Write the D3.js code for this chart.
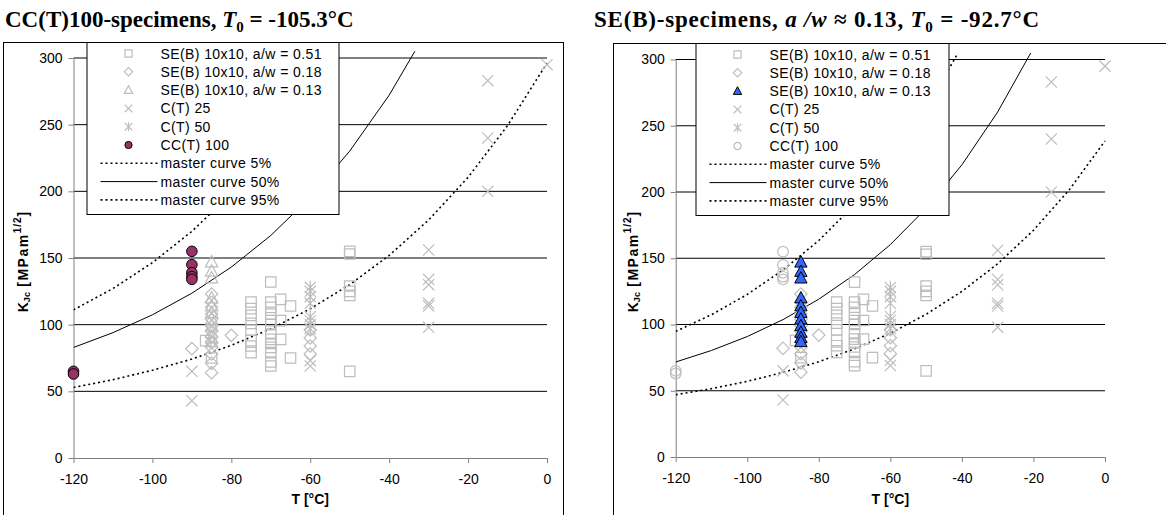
<!DOCTYPE html>
<html>
<head>
<meta charset="utf-8">
<script src="https://cdn.jsdelivr.net/npm/d3@7"></script>
<style>
  body { margin: 0; background: #fff; }
  svg { display: block; font-family: 'Liberation Sans', Arial, sans-serif; }
</style>
</head>
<body>
<svg id="chart" width="1166" height="515"></svg>
<script>
// axis ticks
const xTicks = [-120, -100, -80, -60, -40, -20, 0];
const yTicks = [0, 50, 100, 150, 200, 250, 300];

// test results [T in °C, K_Jc in MPa m^1/2]
const seb051 = [[-86.5, 88], [-85, 75], [-75, 117], [-75, 112], [-75, 107], [-75, 101], [-75, 96], [-75, 88],
  [-75, 84], [-75, 79], [-70, 132], [-70, 117], [-70, 113], [-70, 108], [-70, 103], [-70, 100], [-70, 93],
  [-70, 89], [-70, 86], [-70, 83], [-70, 79], [-70, 72], [-70, 69], [-67.5, 119], [-67.5, 103], [-67.5, 89],
  [-65, 114], [-65, 75], [-50, 155], [-50, 153], [-50, 129], [-50, 125], [-50, 122], [-50, 65]];
const seb018 = [[-90, 82], [-85, 123], [-85, 117], [-85, 113], [-85, 108], [-85, 104], [-85, 99], [-85, 95],
  [-85, 91], [-85, 87], [-85, 83], [-85, 78], [-85, 71], [-85, 64], [-80, 92], [-60, 96], [-60, 90], [-60, 84], [-60, 78]];
const seb013 = [[-85, 147], [-85, 140], [-85, 135], [-85, 120], [-85, 114], [-85, 109], [-85, 104], [-85, 99],
  [-85, 94], [-85, 90], [-85, 87]];
const ct25 = [[-90, 65], [-90, 43], [-60, 73], [-60, 69], [-30, 156], [-30, 134], [-30, 130], [-30, 116],
  [-30, 114], [-30, 98], [-15, 283], [-15, 240], [-15, 200], [0, 295]];
const ct50 = [[-60, 128], [-60, 125], [-60, 121], [-60, 116], [-60, 106], [-60, 103], [-60, 100], [-60, 97]];
const cct100 = [[-120, 65], [-120, 63], [-90, 155], [-90, 145], [-90, 139], [-90, 136], [-90, 134]];

// master curves, read every 10 °C (lists stop once the curve leaves the plot)
const curveT = [-120, -110, -100, -90, -80, -70, -60, -50, -40, -30, -20, -10, 0];
const leftMc5 = [52.9, 58.7, 65.8, 74.2, 84.5, 96.9, 111.9, 130.0, 151.9, 178.5, 210.5, 249.3, 296.2];
const leftMc50 = [82.9, 94.0, 107.4, 123.6, 143.2, 166.9, 195.5, 230.2, 272.1, 322.7];
const leftMc95 = [111.1, 127.1, 146.5, 170.0, 198.3, 232.6, 274.0, 324.2];
const rightMc5 = [47.0, 51.6, 57.1, 63.8, 71.9, 81.6, 93.4, 107.7, 125.0, 145.8, 171.1, 201.6, 238.5];
const rightMc50 = [71.7, 80.4, 90.9, 103.7, 119.1, 137.7, 160.3, 187.6, 220.5, 260.4, 308.6];
const rightMc95 = [94.8, 107.4, 122.7, 141.1, 163.4, 190.4, 223.0, 262.5, 310.2];

const series = [
  { key: 'seb051', label: 'SE(B) 10x10, a/w = 0.51', data: seb051, symbol: 'square' },
  { key: 'seb018', label: 'SE(B) 10x10, a/w = 0.18', data: seb018, symbol: 'diamond' },
  { key: 'seb013', label: 'SE(B) 10x10, a/w = 0.13', data: seb013, symbol: 'triangle' },
  { key: 'ct25', label: 'C(T) 25', data: ct25, symbol: 'cross' },
  { key: 'ct50', label: 'C(T) 50', data: ct50, symbol: 'star' },
  { key: 'cct100', label: 'CC(T) 100', data: cct100, symbol: 'circle' },
];

const GREY = '#bdbdbd';
const markerSize = { square: 5.2, diamond: 6.2, triangle: 6.5, cross: 5.6, star: 5.6, circle: 5.3 };

const panels = [
  {
    id: 'left', frame: [3, 42], x0: 73.5, x1: 547, y0: 458, y1: 58,
    legend: [86.5, 42, 252, 172],
    titleX: 5, titleSpacing: 0,
    title: [['CC(T)100-specimens, ', ''], ['T', 'italic'], ['0', 'sub'], [' = -105.3°C', '']],
    curves: [leftMc5, leftMc50, leftMc95],
    highlight: { key: 'cct100', fill: '#993366' },
  },
  {
    id: 'right', frame: [613, 43], x0: 675.7, x1: 1105, y0: 457, y1: 59.5,
    legend: [695.5, 43, 253, 172],
    titleX: 594, titleSpacing: 0.8,
    title: [['SE(B)-specimens, ', ''], ['a /w', 'italic'], [' ≈ 0.13, ', ''], ['T', 'italic'], ['0', 'sub'], [' = -92.7°C', '']],
    curves: [rightMc5, rightMc50, rightMc95],
    highlight: { key: 'seb013', fill: '#3366ff' },
  },
];

const curveStyles = [
  { label: 'master curve 5%', dash: '2,3', width: 1.6 },
  { label: 'master curve 50%', dash: null, width: 1 },
  { label: 'master curve 95%', dash: '2,3', width: 1.6 },
];

const svg = d3.select('#chart');

function symbolPath(type, r) {
  const p = d3.path();
  if (type === 'square') {
    p.rect(-r, -r, 2 * r, 2 * r);
  } else if (type === 'diamond') {
    p.moveTo(0, -r); p.lineTo(r, 0); p.lineTo(0, r); p.lineTo(-r, 0); p.closePath();
  } else if (type === 'triangle') {
    p.moveTo(0, -r); p.lineTo(r * 0.95, r * 0.75); p.lineTo(-r * 0.95, r * 0.75); p.closePath();
  } else if (type === 'cross' || type === 'star') {
    p.moveTo(-r, -r); p.lineTo(r, r); p.moveTo(-r, r); p.lineTo(r, -r);
    if (type === 'star') { p.moveTo(0, -r * 1.2); p.lineTo(0, r * 1.2); }
  } else {
    p.moveTo(r, 0); p.arc(0, 0, r, 0, 2 * Math.PI);
  }
  return p.toString();
}

function styleMarker(sel, s, hl) {
  if (hl && hl.key === s.key) {
    sel.attr('fill', hl.fill).attr('stroke', '#000').attr('stroke-width', 1);
  } else {
    sel.attr('fill', 'none').attr('stroke', GREY).attr('stroke-width', 1.2);
  }
}

function drawPanel(cfg) {
  const g = svg.append('g').attr('class', cfg.id);
  const x = d3.scaleLinear().domain([-120, 0]).range([cfg.x0, cfg.x1]);
  const y = d3.scaleLinear().domain([0, 300]).range([cfg.y0, cfg.y1]);

  // chart frame
  g.append('rect')
    .attr('x', cfg.frame[0] + 0.5).attr('y', cfg.frame[1] + 0.5)
    .attr('width', 560).attr('height', 520)
    .attr('fill', 'none').attr('stroke', '#000');

  // horizontal gridlines
  g.append('g').selectAll('line')
    .data(yTicks.filter(d => d > 0))
    .join('line')
    .attr('x1', x(-120)).attr('x2', x(0))
    .attr('y1', d => y(d)).attr('y2', d => y(d))
    .attr('stroke', '#000').attr('stroke-width', 1);

  // axes (plain hyphen for negative labels, as in the original)
  const yAxis = g.append('g')
    .attr('transform', `translate(${x(-120)},0)`)
    .call(d3.axisLeft(y).tickValues(yTicks).tickFormat(d => String(d))
      .tickSize(5).tickSizeOuter(0).tickPadding(6));
  const xAxis = g.append('g')
    .attr('transform', `translate(0,${y(0)})`)
    .call(d3.axisBottom(x).tickValues(xTicks).tickFormat(d => String(d))
      .tickSize(5).tickSizeOuter(0).tickPadding(11));
  [yAxis, xAxis].forEach(a => {
    a.select('.domain').attr('stroke', '#808080');
    a.selectAll('.tick line').attr('stroke', '#808080');
    a.selectAll('.tick text').attr('font-size', 14).attr('fill', '#000')
      .attr('font-family', "'Liberation Sans', Arial, sans-serif");
  });

  // axis titles
  g.append('text')
    .attr('x', (cfg.x0 + cfg.x1) / 2).attr('y', 504)
    .attr('text-anchor', 'middle').attr('font-size', 14).attr('font-weight', 'bold')
    .text('T [°C]');
  const yt = g.append('text')
    .attr('transform', `translate(${cfg.frame[0] + 25},262) rotate(-90)`)
    .attr('text-anchor', 'middle').attr('font-size', 14).attr('font-weight', 'bold');
  yt.append('tspan').text('K');
  yt.append('tspan').attr('font-size', 9).attr('dy', 2).text('Jc');
  yt.append('tspan').attr('dy', -2).attr('letter-spacing', 1.5).text(' [MPam');
  yt.append('tspan').attr('font-size', 10).attr('dy', -7).attr('letter-spacing', 1).text('1/2');
  yt.append('tspan').attr('dy', 7).text(']');

  // data markers
  const ordered = series.filter(s => s.key !== cfg.highlight.key).concat(series.filter(s => s.key === cfg.highlight.key));
  const markers = g.append('g');
  ordered.forEach(s => {
    markers.append('g').selectAll('path')
      .data(s.data)
      .join('path')
      .attr('d', symbolPath(s.symbol, markerSize[s.symbol]))
      .attr('transform', d => `translate(${x(d[0])},${y(d[1])})`)
      .call(styleMarker, s, cfg.highlight);
  });

  // master curves, clipped slightly above the top gridline
  const clipId = 'clip-' + cfg.id;
  g.append('clipPath').attr('id', clipId).append('rect')
    .attr('x', x(-120)).attr('y', y(305))
    .attr('width', x(0) - x(-120) + 1).attr('height', y(0) - y(305));
  const line = d3.line().x(d => x(d[0])).y(d => y(d[1]));
  const curveG = g.append('g').attr('clip-path', `url(#${clipId})`);
  cfg.curves.forEach((vals, i) => {
    curveG.append('path')
      .datum(d3.zip(curveT, vals))
      .attr('d', line)
      .attr('fill', 'none').attr('stroke', '#000')
      .attr('stroke-width', curveStyles[i].width)
      .attr('stroke-dasharray', curveStyles[i].dash);
  });
  markers.raise();

  // legend
  const [lx, ly, lw, lh] = cfg.legend;
  const lg = g.append('g').attr('transform', `translate(${lx},${ly})`);
  lg.append('rect')
    .attr('x', 0.5).attr('y', 0.5).attr('width', lw).attr('height', lh)
    .attr('fill', '#fff').attr('stroke', '#000');
  const rowY = i => 11.5 + i * 18.3;
  series.forEach((s, i) => {
    lg.append('path')
      .attr('d', symbolPath(s.symbol, markerSize[s.symbol] * 0.68))
      .attr('transform', `translate(42,${rowY(i)})`)
      .call(styleMarker, s, cfg.highlight);
  });
  curveStyles.forEach((c, j) => {
    const i = series.length + j;
    lg.append('line')
      .attr('x1', 14).attr('x2', 71).attr('y1', rowY(i)).attr('y2', rowY(i))
      .attr('stroke', '#000').attr('stroke-width', c.width).attr('stroke-dasharray', c.dash);
  });
  lg.selectAll('text.lbl')
    .data(series.map(s => s.label).concat(curveStyles.map(c => c.label)))
    .join('text')
    .attr('class', 'lbl')
    .attr('x', 74).attr('y', (d, i) => rowY(i) + 5)
    .attr('font-size', 14).attr('letter-spacing', 0.4)
    .text(d => d);

  // title
  const t = g.append('text')
    .attr('x', cfg.titleX).attr('y', 27)
    .attr('font-family', "'Liberation Serif', 'Times New Roman', serif")
    .attr('font-size', 23).attr('font-weight', 'bold')
    .attr('letter-spacing', cfg.titleSpacing);
  let shifted = false;
  cfg.title.forEach(([txt, kind]) => {
    const ts = t.append('tspan').text(txt);
    if (kind === 'italic') ts.attr('font-style', 'italic');
    if (kind === 'sub') {
      ts.attr('font-size', 15).attr('dy', 5);
      shifted = true;
    } else if (shifted) {
      ts.attr('dy', -5);
      shifted = false;
    }
  });
}

panels.forEach(drawPanel);
</script>
</body>
</html>
